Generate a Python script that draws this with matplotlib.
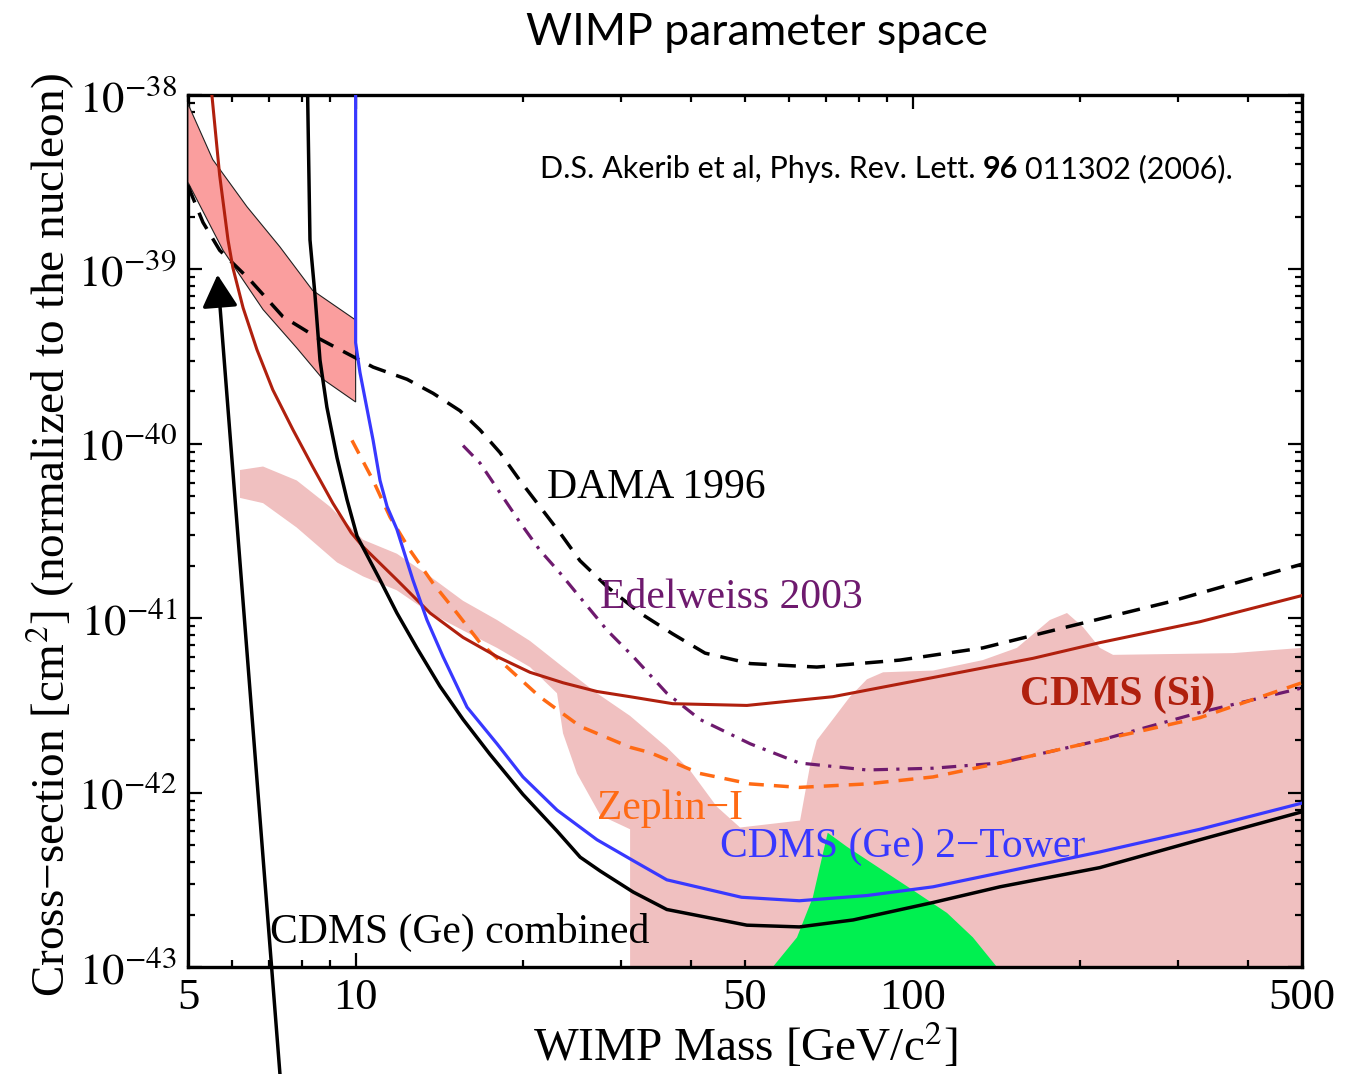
import matplotlib
matplotlib.use("Agg")
import matplotlib.pyplot as plt
import matplotlib.ticker as mticker
import numpy as np

plt.rcParams['font.family'] = ['Liberation Serif', 'DejaVu Serif']
plt.rcParams['mathtext.fontset'] = 'stix'

# WIMP mass [GeV/c^2] and log10 of cross-section [cm^2]

# light pink allowed region (outline)
pink_mass = [6.20, 6.82, 7.84, 8.99, 10.31, 11.86, 13.60, 15.59, 17.94, 20.56,
             23.57, 27.12, 31.10, 36.2, 39.8, 44.5, 49.0, 62.8, 65.4, 67.3,
             71.9, 77.2, 82.8, 88.5, 108.8, 133.7, 153.9, 176.4, 189.3, 202.2,
             216.9, 229.0, 375.9, 500, 500, 31.1, 31.1, 27.5, 24.97, 23.57,
             22.99, 20.56, 17.94, 15.59, 13.60, 11.86, 10.31, 9.26, 7.84, 6.82, 6.20]
pink_log = [-40.15, -40.13, -40.21, -40.36, -40.55, -40.63, -40.76, -40.90, -41.01, -41.13,
            -41.28, -41.43, -41.56, -41.74, -41.87, -42.08, -42.20, -42.16, -41.85, -41.70,
            -41.58, -41.45, -41.35, -41.31, -41.30, -41.24, -41.17, -41.01, -40.97, -41.05,
            -41.17, -41.21, -41.20, -41.17, -43.0, -43.0, -42.21, -42.13, -41.89, -41.66,
            -41.43, -41.28, -41.17, -41.07, -40.97, -40.84, -40.76, -40.68, -40.48, -40.34, -40.31]

# green region
green_mass = [56.1, 62.0, 66.2, 70.4, 76.2, 100.2, 115.3, 128.3, 141.7]
green_log = [-43.0, -42.83, -42.60, -42.23, -42.31, -42.56, -42.69, -42.83, -43.0]

# DAMA low mass band
band_upper_mass = [5.0, 5.54, 6.38, 7.31, 8.37, 10.0]
band_upper_log = [-38.05, -38.37, -38.64, -38.87, -39.12, -39.29]
band_lower_mass = [5.0, 5.78, 6.82, 7.84, 8.74, 10.0]
band_lower_log = [-38.50, -38.89, -39.23, -39.45, -39.63, -39.76]

# DAMA 1996
dama_mass = [5.0, 5.32, 5.70, 6.46, 7.40, 8.52, 9.37, 10.75, 12.37, 13.77, 15.39, 16.72,
             18.16, 19.72, 21.42, 23.27, 25.28, 28.3, 32.4, 37.1, 42.4, 51.1, 67.3, 94.9,
             133.7, 189.3, 286, 500]
dama_log = [-38.52, -38.73, -38.89, -39.06, -39.27, -39.39, -39.46, -39.56, -39.63, -39.71, -39.81, -39.92,
            -40.05, -40.21, -40.36, -40.51, -40.67, -40.82, -40.97, -41.09, -41.20, -41.26, -41.28, -41.24,
            -41.17, -41.05, -40.91, -40.69]

# Edelweiss 2003
edel_mass = [15.59, 16.72, 18.16, 19.72, 21.42, 23.27, 25.28, 28.3, 31.5, 36.2, 41.5,
             51.1, 62.6, 82.8, 108.8, 143.5, 216.8, 328, 500]
edel_log = [-40.01, -40.11, -40.28, -40.45, -40.61, -40.74, -40.88, -41.07, -41.22, -41.43, -41.58,
            -41.72, -41.83, -41.87, -41.86, -41.83, -41.70, -41.54, -41.40]

# Zeplin-I
zep_mass = [9.85, 10.75, 11.53, 12.52, 13.77, 15.2, 16.72, 18.7, 21.4, 25.3, 31.1,
            33.75, 41.5, 51.1, 62.6, 82.8, 108.8, 143.5, 216.8, 328, 500]
zep_log = [-39.98, -40.21, -40.42, -40.61, -40.80, -40.97, -41.14, -41.28, -41.45, -41.62, -41.74,
           -41.77, -41.89, -41.95, -41.97, -41.95, -41.91, -41.83, -41.70, -41.57, -41.37]

# CDMS (Si)
si_mass = [5.52, 5.70, 5.90, 6.02, 6.28, 6.65, 7.10, 7.72, 8.37, 9.10, 9.82, 10.31,
           11.86, 13.60, 15.59, 17.94, 20.56, 23.57, 27.12, 31.10, 37.1, 50.4, 71.9,
           108.8, 164.4, 216.8, 328, 500]
si_log = [-38.0, -38.46, -38.83, -38.99, -39.22, -39.46, -39.69, -39.92, -40.13, -40.34, -40.51, -40.59,
          -40.78, -40.97, -41.11, -41.22, -41.31, -41.37, -41.42, -41.45, -41.49, -41.50, -41.45,
          -41.34, -41.23, -41.14, -41.02, -40.87]

# CDMS (Ge) 2-Tower
tower_mass = [10, 10, 10.18, 10.75, 11.06, 11.39, 11.86, 12.67, 13.43, 14.35, 15.85, 17.94,
              19.97, 22.99, 27.12, 31.5, 36.2, 49.3, 62.6, 82.8, 108.8, 143.5, 216.8, 328, 500]
tower_log = [-38.0, -39.42, -39.59, -39.98, -40.21, -40.36, -40.49, -40.78, -41.01, -41.22, -41.51, -41.72,
             -41.91, -42.10, -42.27, -42.39, -42.50, -42.60, -42.62, -42.59, -42.54, -42.46, -42.34, -42.21, -42.06]

# CDMS (Ge) combined
comb_mass = [8.2, 8.28, 8.45, 8.63, 8.88, 9.26, 9.65, 10.06, 11.06, 11.86, 12.88, 14.17,
             15.59, 17.42, 19.97, 22.99, 25.3, 27.5, 31.5, 36.2, 50.4, 62.6, 78.2, 108.8,
             143.5, 216.8, 328, 500]
comb_log = [-38.0, -38.83, -39.14, -39.52, -39.79, -40.08, -40.32, -40.53, -40.78, -40.97, -41.17, -41.39,
            -41.58, -41.78, -42.01, -42.22, -42.37, -42.45, -42.57, -42.67, -42.76, -42.77, -42.73, -42.63,
            -42.54, -42.43, -42.27, -42.11]

xtick_values = [5, 10, 50, 100, 500]
xtick_labels = ['5', '10', '50', '100', '500']
ytick_exps = [-43, -42, -41, -40, -39, -38]
ytick_labels = [r'$10^{-43}$', r'$10^{-42}$', r'$10^{-41}$', r'$10^{-40}$', r'$10^{-39}$', r'$10^{-38}$']


def sig(logs):
    return 10.0 ** np.array(logs)


def main():
    fig = plt.figure(figsize=(13.64, 10.74), dpi=100)
    ax = fig.add_axes([0.1378, 0.0996, 0.8167, 0.8119])
    ax.set_xscale('log')
    ax.set_yscale('log')

    ax.fill(pink_mass, sig(pink_log), color='#f0c0c0', lw=0, zorder=1)
    ax.fill(green_mass, sig(green_log), color='#00f050', lw=0, zorder=2)
    band_m = band_upper_mass + band_lower_mass[::-1]
    band_s = list(sig(band_upper_log)) + list(sig(band_lower_log)[::-1])
    ax.fill(band_m, band_s, facecolor='#fa9e9e', edgecolor='#202020', lw=0.8, zorder=3)

    ax.plot(dama_mass, sig(dama_log), color='black', lw=2.5, ls=(0, (5.2, 3.2)), zorder=4)
    ax.plot(edel_mass, sig(edel_log), color='#6e1a6e', lw=2.3, ls=(0, (4.5, 2.6, 1, 2.6)), zorder=4)
    ax.plot(zep_mass, sig(zep_log), color='#ff6a14', lw=2.5, ls=(0, (4.3, 2.9)), zorder=4)
    ax.plot(si_mass, sig(si_log), color='#b0200e', lw=2.2, zorder=5)
    ax.plot(tower_mass, sig(tower_log), color='#3838ff', lw=2.3, zorder=5)
    ax.plot(comb_mass, sig(comb_log), color='black', lw=2.5, zorder=5)

    ax.annotate('', xy=(5.65, 10 ** -39.03), xytext=(0.0826, -0.123),
                textcoords='axes fraction', annotation_clip=False,
                arrowprops=dict(arrowstyle='-|>,head_length=0.4,head_width=0.22',
                                mutation_scale=50, color='black', lw=2.5,
                                shrinkA=0, shrinkB=0), zorder=6)

    # curve labels
    ax.text(22.05, 10 ** -40.31, 'DAMA 1996', fontsize=30, color='black', zorder=7)
    ax.text(27.5, 10 ** -40.94, 'Edelweiss 2003', fontsize=30, color='#6e1a6e', zorder=7)
    ax.text(155.8, 10 ** -41.50, 'CDMS (Si)', fontsize=30, color='#b0200e',
            fontweight='bold', zorder=7)
    ax.text(27.1, 10 ** -42.15, 'Zeplin\u2212I', fontsize=30, color='#ff6a14', zorder=7)
    ax.text(45.1, 10 ** -42.37, 'CDMS (Ge) 2\u2212Tower', fontsize=30, color='#3838ff', zorder=7)
    ax.text(7.02, 10 ** -42.86, 'CDMS (Ge) combined', fontsize=30, color='black', zorder=7)

    ax.set_xlim(5, 500)
    ax.set_ylim(1e-43, 1e-38)

    ax.set_xticks(xtick_values, xtick_labels)
    ax.xaxis.set_minor_locator(mticker.LogLocator(base=10, subs=np.arange(2, 10), numticks=20))
    ax.xaxis.set_minor_formatter(mticker.NullFormatter())
    ax.set_yticks([10.0 ** e for e in ytick_exps], ytick_labels)
    ax.yaxis.set_minor_locator(mticker.LogLocator(base=10, subs=np.arange(2, 10), numticks=20))
    ax.yaxis.set_minor_formatter(mticker.NullFormatter())

    ax.tick_params(which='both', direction='in', top=True, right=True, width=1.6)
    ax.tick_params(which='major', length=10, labelsize=32, pad=8)
    ax.tick_params(which='minor', length=5)
    for t, v in zip(ax.xaxis.get_major_ticks(), xtick_values):
        if v not in (10, 100):
            t.tick1line.set_markersize(5)
            t.tick2line.set_markersize(5)
    for s in ax.spines.values():
        s.set_linewidth(2.4)

    ax.set_xlabel('WIMP Mass [GeV/c$^2$]', fontsize=34)
    ax.xaxis.set_label_coords(0.5, -0.062)
    ax.set_ylabel('Cross\u2212section [cm$^2$] (normalized to the nucleon)', fontsize=34)
    ax.yaxis.set_label_coords(-0.10, 0.495)

    fig.text(0.555, 0.970, 'WIMP parameter space', ha='center', va='center',
             fontsize=32, family=['Lato', 'DejaVu Sans'])

    # citation, with the volume number in bold
    t1 = fig.text(0.396, 0.834, 'D.S. Akerib et al, Phys. Rev. Lett.', fontsize=22,
                  family=['Lato', 'DejaVu Sans'], va='baseline')
    t2 = ax.annotate('96', xy=(1, 0), xycoords=t1, xytext=(5, 0), textcoords='offset points',
                     fontsize=22, fontweight='bold', family=['Lato', 'DejaVu Sans'], va='bottom')
    ax.annotate('011302 (2006).', xy=(1, 0), xycoords=t2, xytext=(5, 0),
                textcoords='offset points', fontsize=22,
                family=['Lato', 'DejaVu Sans'], va='bottom')

    fig.savefig("out.png", dpi=100)


main()
